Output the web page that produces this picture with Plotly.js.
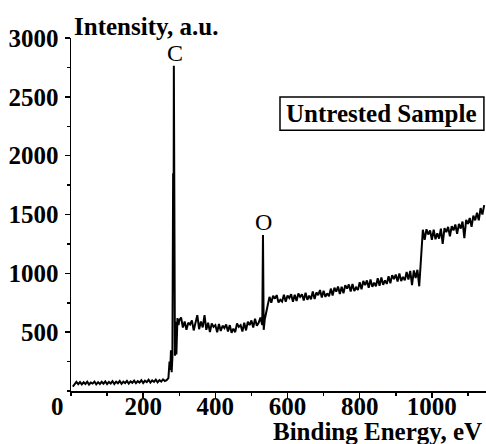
<!DOCTYPE html>
<html>
<head>
<meta charset="utf-8">
<script src="https://cdn.plot.ly/plotly-3.0.1.min.js"></script>
<style>html,body{margin:0;padding:0;background:#fff;}#chart{width:486px;height:444px;}</style>
</head>
<body>
<div id="chart"></div>
<script>
// Segment: background before the C 1s peak
const energyA = [5,10,15,20,25,30,35,40,45,50,55,60,65,70,75,80,85,90,95,100,105,110,115,120,125,130,135,140,145,150,155,160,165,170,175,180,185,190,195,200,205,210,215,220,225,230,235,240,245,250,255,260,265];
const intensityA = [38,62,78,58,76,56,74,60,79,55,72,63,80,57,75,59,78,62,81,58,77,64,83,60,79,66,85,61,80,68,86,63,82,70,88,66,84,72,92,68,87,75,95,71,90,78,97,74,93,80,99,85,92];
// Segment: C 1s peak
const energyC = [270,273,275,277,279,281,283,284,285,286,288,290,292,295,298];
const intensityC = [110,250,180,345,160,290,1850,950,2765,590,300,588,310,620,560];
// Segment: plateau between C and O
const energyP = [300,305,310,315,320,325,330,335,340,345,350,355,360,365,370,375,380,385,390,395,400,405,410,415,420,425,430,435,440,445,450,455,460,465,470,475,480,485,490,495,500,505,510,515,520,525,530];
const intensityP = [600,625,540,590,520,580,565,600,515,575,645,525,590,540,645,520,580,500,575,545,560,500,570,510,555,535,565,505,560,495,530,500,575,545,560,505,580,515,590,560,600,540,615,555,580,625,560];
// Segment: O 1s peak
const energyO = [532,534,537,540,545];
const intensityO = [1325,520,610,650,720];
// Segment: rising background after O
const energyR = [550,555,560,565,570,575,580,585,590,595,600,605,610,615,620,625,630,635,640,645,650,655,660,665,670,675,680,685,690,695,700,705,710,715,720,725,730,735,740,745,750,755,760,765,770,775,780,785,790,795,800,805,810,815,820,825,830,835,840,845,850,855,860,865,870,875,880,885,890,895,900,905,910,915,920,925,930,935,940,945,950,955,960,965];
const intensityR = [800,750,810,785,815,752,775,760,818,758,812,790,822,758,818,765,828,800,822,770,835,775,810,780,845,782,838,815,858,795,852,800,830,805,870,812,878,845,888,825,885,830,898,870,905,845,910,850,880,858,925,865,935,900,940,878,948,885,920,890,958,895,965,902,940,910,975,915,985,950,990,930,998,935,970,940,1012,948,1020,900,1025,960,1030,890];
// Segment: step and high-energy tail
const energyT = [968,970,972,975,980,985,990,995,1000,1005,1010,1015,1020,1025,1030,1035,1040,1045,1050,1055,1060,1065,1070,1075,1080,1085,1090,1095,1100,1105,1110,1115,1120,1125,1130,1135,1140,1145];
const intensityT = [1030,1150,1300,1370,1285,1375,1330,1365,1285,1370,1290,1340,1295,1380,1250,1385,1350,1395,1315,1400,1365,1415,1335,1420,1380,1440,1300,1455,1420,1470,1395,1490,1450,1515,1450,1555,1500,1580];

const xTickVals = [200,400,600,800,1000];
const xTickText = ['200','400','600','800','1000'];
const yTickVals = [500,1000,1500,2000,2500,3000];
const yTickText = ['500','1000','1500','2000','2500','3000'];

const energy = [].concat(energyA, energyC, energyP, energyO, energyR, energyT);
const intensity = [].concat(intensityA, intensityC, intensityP, intensityO, intensityR, intensityT);

const F = 'Liberation Serif, Times New Roman, serif';
const boldFont = {family: F, size: 25, color: '#000', weight: 700};

const trace = {
  x: energy, y: intensity, type: 'scatter', mode: 'lines',
  line: {color: '#000', width: 2}, hoverinfo: 'skip', showlegend: false
};

const layout = {
  width: 486, height: 444,
  margin: {l: 71, r: 0, t: 38, b: 53, pad: 0},
  paper_bgcolor: '#fff', plot_bgcolor: '#fff',
  showlegend: false,
  xaxis: {
    range: [0, 1150], showgrid: false, zeroline: false,
    showline: true, linecolor: '#000', linewidth: 1.5,
    ticks: 'outside', ticklen: 5, tickwidth: 1.5, tickcolor: '#000',
    tickvals: xTickVals, ticktext: xTickText, tickfont: boldFont,
    ticklabelstandoff: -13,
    minor: {ticks: 'outside', dtick: 100, tick0: 0, ticklen: 3, tickwidth: 1.5, tickcolor: '#000', showgrid: false}
  },
  yaxis: {
    range: [0, 3000], showgrid: false, zeroline: false,
    showline: true, linecolor: '#000', linewidth: 1.5,
    ticks: 'outside', ticklen: 5, tickwidth: 1.5, tickcolor: '#000',
    tickvals: yTickVals, ticktext: yTickText, tickfont: boldFont,
    ticklabelstandoff: 1,
    minor: {ticks: 'outside', dtick: 250, tick0: 0, ticklen: 3, tickwidth: 1.5, tickcolor: '#000', showgrid: false}
  },
  shapes: [
    {type: 'rect', xref: 'paper', yref: 'paper', x0: 0.5036, x1: 0.995, y0: 0.739, y1: 0.833,
     line: {color: '#000', width: 1.5}, fillcolor: 'rgba(0,0,0,0)'}
  ],
  annotations: [
    {text: 'Intensity, a.u.', xref: 'paper', yref: 'paper', x: 0, y: 1, xanchor: 'left', yanchor: 'middle',
     xshift: 1, yshift: 12, showarrow: false, font: boldFont},
    {text: 'Binding Energy, eV', xref: 'paper', yref: 'paper', x: 1, y: 0, xanchor: 'right', yanchor: 'middle',
     xshift: -2, yshift: -40, showarrow: false, font: boldFont},
    {text: '0', xref: 'paper', yref: 'paper', x: 0, y: 0, xanchor: 'center', yanchor: 'middle',
     xshift: -14, yshift: -15, showarrow: false, font: boldFont},
    {text: 'C', xref: 'x', yref: 'y', x: 288, y: 2872, xanchor: 'center', yanchor: 'middle',
     showarrow: false, font: {family: F, size: 24, color: '#000'}},
    {text: 'O', xref: 'x', yref: 'y', x: 533, y: 1435, xanchor: 'center', yanchor: 'middle',
     showarrow: false, font: {family: F, size: 24, color: '#000'}},
    {text: 'Untrested Sample', xref: 'paper', yref: 'paper', x: 0.749, y: 0.786, xanchor: 'center', yanchor: 'middle',
     showarrow: false, font: boldFont}
  ]
};

Plotly.newPlot('chart', [trace], layout, {staticPlot: true, displayModeBar: false});
</script>
</body>
</html>
